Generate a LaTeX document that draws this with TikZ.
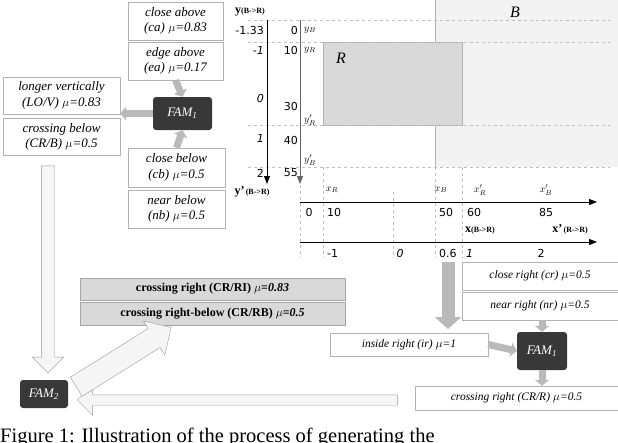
\documentclass[tikz,border=0pt]{standalone}
\usepackage{fontspec}
\setmainfont{Liberation Serif}
\newfontfamily\sansf{DejaVu Sans}
\usetikzlibrary{arrows.meta,shapes.arrows}
\begin{document}
\begin{tikzpicture}[x=1pt,y=-1pt,
  lbox/.style={draw=gray!60,fill=white,inner sep=1pt,align=center,font=\itshape\fontsize{13}{15.5}\selectfont},
  gbox/.style={draw=gray!70,fill=gray!30,inner sep=1pt,font=\bfseries\fontsize{12}{14}\selectfont},
  fam/.style={fill=black!78,text=white,rounded corners=3pt,font=\itshape\fontsize{13}{15}\selectfont},
  sarrow/.style={-{Triangle[width=14pt,length=6pt]},line width=7pt,draw=gray!55},
  harrow/.style={single arrow,draw=gray!80,fill=gray!8,inner xsep=0pt,anchor=center},
  dsh/.style={dashed,draw=gray!50,line width=0.4pt},
  num/.style={font=\sansf\fontsize{11}{13}\selectfont,inner sep=0pt},
  lab/.style={font=\itshape\fontsize{10}{12}\selectfont,inner sep=0pt},
  axarr/.style={-{Triangle[width=6pt,length=8pt]},line width=1pt}]
\useasboundingbox (0,0) rectangle (618,442);
\clip (0,0) rectangle (618,442);
% regions
\fill[gray!10] (435,0) rectangle (618,167);
\draw[gray!60,line width=0.8pt] (435,0) -- (435,167);
\fill[gray!30] (323,42) rectangle (462,125);
\draw[gray!60] (323,42) rectangle (462,125);
\node[font=\itshape\fontsize{16}{18}\selectfont] (R) at (341,58) {R};
\node[font=\itshape\fontsize{16}{18}\selectfont] (B) at (515,12) {B};
% dashed guides
\foreach \yy in {20,42,125,167} \draw[dsh] (248,\yy) -- (610,\yy);
\foreach \xx in {300,323,435,462} \draw[dsh] (\xx,167) -- (\xx,258);
\draw[dsh] (393,192) -- (393,258);
% y axes
\coordinate (ya1) at (267,20); \coordinate (ya2) at (267,184);
\coordinate (yb1) at (300,20); \coordinate (yb2) at (300,184);
\draw[axarr] (ya1) -- (ya2);
\draw[axarr,draw=gray!80!black] (yb1) -- (yb2);
\node[font=\bfseries\fontsize{12}{13}\selectfont,inner sep=0pt] (ylab) at (250,12) {y\fontsize{8}{9}\selectfont(B->R)};
\node[font=\bfseries\fontsize{12}{13}\selectfont,inner sep=0pt] (ylab2) at (252,192) {y'\fontsize{8}{9}\selectfont\,(B->R)};
\node[num,anchor=east] (v1) at (264,30) {-1.33};
\node[num,anchor=east,font=\itshape\sansf\fontsize{11}{13}\selectfont] (v2) at (264,50) {-1};
\node[num,anchor=east,font=\itshape\sansf\fontsize{11}{13}\selectfont] (v3) at (264,98) {0};
\node[num,anchor=east,font=\itshape\sansf\fontsize{11}{13}\selectfont] (v4) at (264,138) {1};
\node[num,anchor=east] (v5) at (264,173) {2};
\node[num,anchor=east] (w1) at (298,30) {0};
\node[num,anchor=east] (w2) at (298,50) {10};
\node[num,anchor=east] (w3) at (298,106) {30};
\node[num,anchor=east] (w4) at (298,140) {40};
\node[num,anchor=east] (w5) at (298,173) {55};
\node[lab,anchor=west] (yB) at (304,30) {$y_B$};
\node[lab,anchor=west] (yR) at (304,50) {$y_R$};
\node[lab,anchor=west] (yR2) at (304,120) {$y'_R$};
\node[lab,anchor=west] (yB2) at (304,160) {$y'_B$};
% x axes
\coordinate (xa1) at (300,202); \coordinate (xa2) at (597,202);
\coordinate (xb1) at (300,242); \coordinate (xb2) at (597,242);
\draw[axarr] (xa1) -- (xa2);
\draw[axarr] (xb1) -- (xb2);
\node[lab] (xR) at (332,190) {$x_R$};
\node[lab] (xB) at (441,190) {$x_B$};
\node[lab] (xR2) at (480,190) {$x'_R$};
\node[lab] (xB2) at (546,190) {$x'_B$};
\node[num] (u0) at (309,212) {0};
\node[num,anchor=west] (u1) at (327,212) {10};
\node[num,anchor=west] (u2) at (439,212) {50};
\node[num,anchor=west] (u3) at (467,212) {60};
\node[num] (u4) at (546,212) {85};
\node[font=\bfseries\fontsize{12}{13}\selectfont,inner sep=0pt] (xl) at (480,231) {x\fontsize{8}{9}\selectfont(B->R)};
\node[font=\bfseries\fontsize{12}{13}\selectfont,inner sep=0pt] (xl2) at (570,229) {x'\fontsize{8}{9}\selectfont\,(R->R)};
\node[num,anchor=west] (t1) at (327,253) {-1};
\node[num,font=\itshape\sansf\fontsize{11}{13}\selectfont] (t2) at (400,253) {0};
\node[num,anchor=west] (t3) at (439,253) {0.6};
\node[num,anchor=west,font=\itshape\sansf\fontsize{11}{13}\selectfont] (t4) at (466,253) {1};
\node[num] (t5) at (541,253) {2};
% top-left boxes
\node[lbox,minimum width=95pt,minimum height=38pt] (ca) at (175.5,21) {close above\\(ca) $\mu$=0.83};
\node[lbox,minimum width=95pt,minimum height=38pt] (ea) at (175.5,61) {edge above\\(ea) $\mu$=0.17};
\node[lbox,minimum width=117pt,minimum height=37pt] (lv) at (61.5,95.5) {longer vertically\\(LO/V) $\mu$=0.83};
\node[lbox,minimum width=117pt,minimum height=37pt] (cb2) at (61.5,137) {crossing below\\(CR/B) $\mu$=0.5};
\node[fam,minimum width=59pt,minimum height=33pt] (f1) at (182.5,113.5) {FAM\textsubscript{\itshape 1}};
\node[lbox,minimum width=97pt,minimum height=39pt] (cb) at (176.5,167.5) {close below\\(cb) $\mu$=0.5};
\node[lbox,minimum width=97pt,minimum height=38pt] (nb) at (176.5,209) {near below\\(nb) $\mu$=0.5};
\draw[sarrow] (ea.south) -- (f1.north);
\draw[sarrow] (cb.north) -- (f1.south);
\draw[sarrow] (f1.west) -- (lv.east |- f1.west);
% right side
\node[lbox,minimum width=156pt,minimum height=28pt,font=\itshape\fontsize{11.5}{13}\selectfont] (cr) at (540,276) {close right (cr) $\mu$=0.5};
\node[lbox,minimum width=156pt,minimum height=28pt,font=\itshape\fontsize{11.5}{13}\selectfont] (nr) at (540,306) {near right (nr) $\mu$=0.5};
\node[lbox,minimum width=158pt,minimum height=23pt,font=\itshape\fontsize{11.5}{13}\selectfont] (ir) at (409,344.5) {inside right (ir) $\mu$=1};
\node[fam,minimum width=50pt,minimum height=38pt] (f1b) at (542,351) {FAM\textsubscript{\itshape 1}};
\node[lbox,minimum width=203pt,minimum height=24pt,font=\itshape\fontsize{11.5}{13}\selectfont] (crr) at (516.5,398) {crossing right (CR/R) $\mu$=0.5};
\coordinate (ga1) at (448,262); \coordinate (ga2) at (448,329);
\draw[-{Triangle[width=26pt,length=12pt]},line width=13pt,draw=gray!55] (ga1) -- (ga2);
\draw[sarrow] (nr.south -| f1b) -- (f1b.north);
\draw[sarrow] (ir.east) -- (f1b.west);
\draw[sarrow] (f1b.south) -- (crr.north -| f1b);
% bottom left
\node[gbox,minimum width=265pt,minimum height=22pt] (cri) at (212.5,289) {crossing right (CR/RI) $\mu$=\textit{0.83}};
\node[gbox,minimum width=265pt,minimum height=23pt] (crb) at (212.5,313.5) {crossing right-below (CR/RB) $\mu$=\textit{0.5}};
\node[fam,minimum width=48pt,minimum height=28pt] (f2) at (44,394) {FAM\textsubscript{\itshape 2}};
\node[harrow,minimum height=207pt,inner ysep=6.5pt,single arrow head extend=9pt,rotate=-90] (ha1) at (48,266) {};
\node[harrow,minimum height=320pt,inner ysep=5pt,single arrow head extend=10pt,rotate=180] (ha2) at (240,400) {};
\node[harrow,minimum height=112pt,inner ysep=11pt,single arrow head extend=9pt,rotate=32] (ha3) at (119,360) {};
% caption
\node[anchor=west,font=\fontsize{20.5}{22}\selectfont,inner sep=0pt] (cap) at (0,437) {Figure 1: Illustration of the process of generating the};
\end{tikzpicture}
\end{document}
